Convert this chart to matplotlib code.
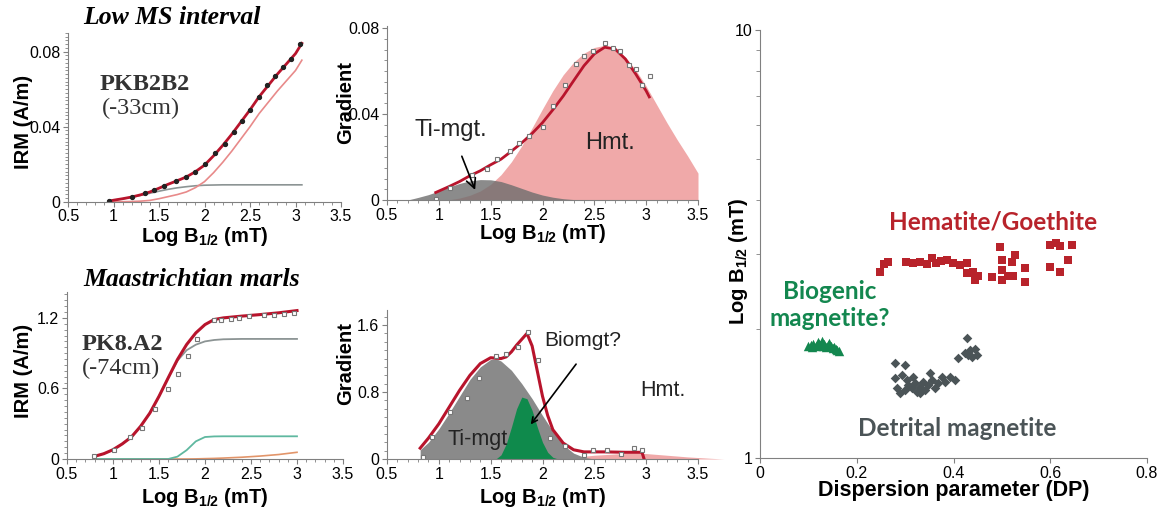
import numpy as np
import matplotlib
matplotlib.use("Agg")
import matplotlib.pyplot as plt
from matplotlib.ticker import MultipleLocator, FixedLocator, NullFormatter, FuncFormatter

plt.rcParams["font.family"] = ["Liberation Sans", "DejaVu Sans"]
plt.rcParams["mathtext.fontset"] = "custom"
plt.rcParams["mathtext.rm"] = "Liberation Sans"
plt.rcParams["mathtext.bf"] = "Liberation Sans:bold"

RED = "#b8142c"
PINK_LINE = "#e88a8a"
PINK_FILL = "#f0a9a9"
GRAY_LINE = "#8c9494"
GRAY_FILL = "#6e6e6e"
GREEN = "#0f8a4c"
TEAL = "#5fb8a0"
ORANGE = "#e2956a"

# --- PKB2B2 IRM acquisition (top left) ---
tl_x = [0.95, 1.0, 1.1, 1.2, 1.3, 1.4, 1.5, 1.6, 1.7, 1.8, 1.9, 2.0, 2.1, 2.2,
        2.3, 2.4, 2.5, 2.6, 2.7, 2.8, 2.9, 3.0, 3.07]
tl_total = [0.0003, 0.0008, 0.0016, 0.0025, 0.0037, 0.0052, 0.0072, 0.0093, 0.0112,
            0.0132, 0.016, 0.0195, 0.0245, 0.030, 0.036, 0.0425, 0.049, 0.056,
            0.062, 0.068, 0.0735, 0.079, 0.0845]
tl_gray = [0.0003, 0.0008, 0.0015, 0.0024, 0.0034, 0.0045, 0.0056, 0.0066, 0.0074,
           0.008, 0.0085, 0.0088, 0.0089, 0.009, 0.009, 0.009, 0.009, 0.009,
           0.009, 0.009, 0.009, 0.009, 0.009]
tl_pink = [0.0, 0.0, 0.0, 0.0001, 0.0003, 0.0007, 0.0016, 0.0027, 0.0038, 0.0052,
           0.0075, 0.0107, 0.0155, 0.021, 0.027, 0.0335, 0.040, 0.047, 0.053,
           0.059, 0.0645, 0.070, 0.0755]
tl_pts_x = [0.95, 1.2, 1.35, 1.45, 1.56, 1.69, 1.8, 1.9, 2.0, 2.11, 2.22, 2.32,
            2.41, 2.5, 2.6, 2.69, 2.78, 2.86, 2.95, 3.05]
tl_pts_y = [0.0003, 0.0023, 0.0045, 0.0063, 0.0085, 0.0108, 0.013, 0.016, 0.020,
            0.026, 0.031, 0.037, 0.043, 0.049, 0.056, 0.062, 0.067, 0.072, 0.076, 0.084]

# --- PKB2B2 gradient (top middle) ---
tm_fill_x = [0.7, 0.8, 0.9, 1.0, 1.1, 1.2, 1.3, 1.4, 1.5, 1.6, 1.7, 1.8, 1.9, 2.0,
             2.1, 2.2, 2.3, 2.4, 2.5, 2.6, 2.7, 2.8, 2.9, 3.0, 3.1, 3.2, 3.3, 3.4, 3.5]
tm_hmt = [0.0, 0.0, 0.0, 0.0, 0.0001, 0.0009, 0.0022, 0.0042, 0.0073, 0.0118,
          0.0178, 0.0252, 0.0336, 0.0424, 0.0509, 0.0583, 0.0641, 0.0683, 0.0710,
          0.072, 0.0705, 0.0665, 0.0605, 0.0530, 0.0445, 0.0360, 0.0280, 0.0205, 0.0125]
tm_timgt = [0.0, 0.0012, 0.0025, 0.0042, 0.0061, 0.0077, 0.0089, 0.0095, 0.0094,
            0.0086, 0.0071, 0.0054, 0.0037, 0.0023, 0.0013, 0.0006, 0.0002, 0.0,
            0.0, 0.0, 0.0, 0.0, 0.0, 0.0, 0.0, 0.0, 0.0, 0.0, 0.0]
tm_fit_x = [0.97, 1.1, 1.2, 1.3, 1.4, 1.5, 1.6, 1.7, 1.8, 1.9, 2.0, 2.1, 2.2, 2.3,
            2.4, 2.5, 2.6, 2.7, 2.8, 2.9, 3.0, 3.03]
tm_fit_y = [0.0035, 0.0063, 0.0086, 0.0113, 0.0136, 0.0164, 0.019, 0.0227, 0.0266,
            0.031, 0.036, 0.042, 0.0484, 0.0555, 0.0625, 0.068, 0.0711, 0.0703,
            0.0656, 0.0586, 0.0508, 0.048]
tm_pts_x = [0.97, 1.11, 1.32, 1.46, 1.56, 1.69, 1.77, 1.87, 2.0, 2.1, 2.22, 2.32,
            2.4, 2.49, 2.6, 2.68, 2.75, 2.83, 2.9, 2.96, 3.04]
tm_pts_y = [0.0003, 0.0055, 0.0117, 0.0144, 0.019, 0.0227, 0.0266, 0.0297, 0.034,
            0.0437, 0.0534, 0.0633, 0.0672, 0.0695, 0.0731, 0.0706, 0.0695, 0.0628,
            0.0609, 0.0534, 0.0575]

# --- PK8.A2 IRM acquisition (bottom left) ---
bl_x = [0.8, 0.9, 1.0, 1.1, 1.2, 1.3, 1.4, 1.5, 1.6, 1.7, 1.8, 1.9, 2.0, 2.1,
        2.2, 2.4, 2.6, 2.8, 3.0]
bl_total = [0.023, 0.045, 0.079, 0.128, 0.187, 0.278, 0.39, 0.533, 0.69, 0.845,
            0.973, 1.072, 1.143, 1.186, 1.2, 1.215, 1.228, 1.243, 1.262]
bl_gray = [0.023, 0.045, 0.079, 0.128, 0.187, 0.278, 0.39, 0.533, 0.69, 0.835,
           0.925, 0.972, 1.0, 1.012, 1.018, 1.021, 1.021, 1.021, 1.021]
bl_teal = [0.0, 0.0, 0.0, 0.0, 0.0, 0.0, 0.0, 0.0, 0.0, 0.02, 0.075, 0.15, 0.187,
           0.192, 0.193, 0.193, 0.193, 0.193, 0.193]
bl_orange = [0.0, 0.0, 0.0, 0.0, 0.0, 0.0, 0.0, 0.0, 0.0, 0.0, 0.0, 0.001, 0.003,
             0.005, 0.008, 0.015, 0.025, 0.038, 0.057]
bl_pts_x = [0.79, 1.01, 1.19, 1.31, 1.46, 1.6, 1.71, 1.81, 1.91, 2.1, 2.17, 2.28,
            2.37, 2.48, 2.64, 2.75, 2.86, 2.97]
bl_pts_y = [0.023, 0.074, 0.184, 0.264, 0.426, 0.596, 0.726, 0.874, 1.021, 1.186,
            1.186, 1.19, 1.2, 1.214, 1.226, 1.226, 1.234, 1.243]

# --- PK8.A2 gradient (bottom middle) ---
bm_gray_x = [0.82, 0.9, 1.0, 1.1, 1.2, 1.3, 1.4, 1.5, 1.55, 1.6, 1.7, 1.8, 1.9,
             2.0, 2.1, 2.2, 2.3, 2.4, 2.5]
bm_gray_y = [0.11, 0.2, 0.36, 0.55, 0.75, 0.95, 1.1, 1.19, 1.2, 1.17, 1.06, 0.9,
             0.72, 0.52, 0.33, 0.17, 0.07, 0.02, 0.0]
bm_green_x = [1.55, 1.6, 1.65, 1.7, 1.75, 1.8, 1.85, 1.9, 1.95, 2.0, 2.05, 2.1, 2.15]
bm_green_y = [0.0, 0.05, 0.18, 0.38, 0.6, 0.74, 0.72, 0.58, 0.38, 0.2, 0.08, 0.02, 0.0]
bm_hmt_x = [2.3, 2.5, 2.7, 2.9, 3.0, 3.2, 3.4, 3.6, 3.75]
bm_hmt_y = [0.02, 0.045, 0.06, 0.07, 0.065, 0.045, 0.025, 0.01, 0.0]
bm_fit_x = [0.82, 0.9, 1.0, 1.1, 1.2, 1.3, 1.4, 1.5, 1.6, 1.65, 1.7, 1.75, 1.8,
            1.85, 1.9, 1.95, 2.0, 2.05, 2.1, 2.2, 2.3, 2.4, 2.6, 2.8, 2.96, 2.98]
bm_fit_y = [0.13, 0.25, 0.42, 0.62, 0.82, 1.0, 1.14, 1.21, 1.2, 1.22, 1.28, 1.36,
            1.43, 1.5, 1.35, 1.05, 0.75, 0.52, 0.35, 0.19, 0.11, 0.085, 0.085,
            0.08, 0.08, 0.0]
bm_pts_x = [0.85, 0.93, 1.11, 1.27, 1.39, 1.55, 1.65, 1.76, 1.86, 1.96, 2.07, 2.22,
            2.4, 2.49, 2.62, 2.76, 2.88, 2.96]
bm_pts_y = [0.028, 0.267, 0.565, 0.724, 0.963, 1.23, 1.26, 1.333, 1.512, 1.18,
            0.255, 0.155, 0.048, 0.107, 0.107, 0.06, 0.127, 0.107]

# --- DP vs Log B1/2 scatter (right) ---
hem_dp = [0.248, 0.256, 0.265, 0.302, 0.316, 0.331, 0.345, 0.356, 0.364, 0.374,
          0.387, 0.399, 0.413, 0.428, 0.428, 0.440, 0.451, 0.444, 0.480, 0.496,
          0.500, 0.500, 0.500, 0.513, 0.521, 0.527, 0.523, 0.548, 0.548, 0.599,
          0.612, 0.620, 0.645, 0.599, 0.620, 0.637]
hem_b = [2.72, 2.84, 2.87, 2.87, 2.855, 2.87, 2.84, 2.93, 2.855, 2.885, 2.90, 2.855,
         2.825, 2.855, 2.705, 2.72, 2.66, 2.605, 2.65, 3.11, 2.90, 2.75, 2.605,
         2.66, 2.87, 2.98, 2.66, 2.78, 2.58, 3.15, 3.18, 3.13, 3.15, 2.79, 2.72, 2.90]
bio_dp = [0.10, 0.105, 0.108, 0.11, 0.115, 0.12, 0.122, 0.125, 0.128, 0.13, 0.133,
          0.137, 0.14, 0.143, 0.147, 0.15, 0.153, 0.157, 0.16, 0.163]
bio_b = [1.83, 1.84, 1.82, 1.85, 1.83, 1.87, 1.85, 1.84, 1.88, 1.83, 1.85, 1.82,
         1.84, 1.86, 1.83, 1.81, 1.82, 1.80, 1.79, 1.78]
det_dp = [0.279, 0.300, 0.279, 0.294, 0.304, 0.283, 0.289, 0.300, 0.314, 0.320,
          0.325, 0.331, 0.337, 0.341, 0.347, 0.351, 0.356, 0.362, 0.368, 0.376,
          0.382, 0.393, 0.403, 0.316, 0.306, 0.331, 0.409, 0.428, 0.424, 0.434,
          0.444, 0.449, 0.438, 0.430]
det_b = [1.667, 1.65, 1.54, 1.56, 1.52, 1.458, 1.419, 1.44, 1.458, 1.497, 1.426,
         1.466, 1.505, 1.44, 1.48, 1.58, 1.52, 1.458, 1.497, 1.546, 1.505, 1.546,
         1.52, 1.546, 1.48, 1.419, 1.713, 1.907, 1.759, 1.788, 1.80, 1.741, 1.72, 1.741]

W, H = 1161, 508


def box(x0, x1, ytop, ybot):
    return [x0 / W, 1 - ybot / H, (x1 - x0) / W, (ybot - ytop) / H]


def style(ax, yticks, ylabels, yminor, ylim):
    for s in ["top", "right"]:
        ax.spines[s].set_visible(False)
    for s in ["left", "bottom"]:
        ax.spines[s].set_color("#808080")
    ax.set_xlim(0.5, 3.5)
    ax.set_ylim(*ylim)
    ax.set_xticks([0.5, 1, 1.5, 2, 2.5, 3, 3.5])
    ax.set_xticklabels(["0.5", "1", "1.5", "2", "2.5", "3", "3.5"])
    ax.xaxis.set_minor_locator(MultipleLocator(0.1))
    ax.set_yticks(yticks)
    ax.set_yticklabels(ylabels)
    ax.yaxis.set_minor_locator(MultipleLocator(yminor))
    ax.tick_params(which="both", direction="out", color="#808080", labelsize=11.5, pad=2)
    ax.tick_params(which="major", length=3.5)
    ax.tick_params(which="minor", length=2)


XLAB = r"Log B$_{\mathbf{1/2}}$ (mT)"
LAB = dict(fontsize=14.5, fontweight="bold")

fig = plt.figure(figsize=(W / 100, H / 100), dpi=100)

# top left
ax1 = fig.add_axes(box(68, 341, 33, 201.7))
style(ax1, [0, 0.04, 0.08], ["0", "0.04", "0.08"], 0.002, (0, 0.09))
ax1.plot(tl_x, tl_gray, color=GRAY_LINE, lw=1.2)
ax1.plot(tl_x, tl_pink, color=PINK_LINE, lw=1.2)
ax1.plot(tl_x, tl_total, color=RED, lw=2)
ax1.plot(tl_pts_x, tl_pts_y, "o", color="#222222", ms=2.8)
ax1.set_xlabel(XLAB, **LAB)
ax1.set_ylabel("IRM (A/m)", **LAB)
ax1.xaxis.set_label_coords(0.5, -0.14)
ax1.yaxis.set_label_coords(-0.128, 0.47)

# top middle
ax2 = fig.add_axes(box(387, 698, 26, 200))
style(ax2, [0, 0.04, 0.08], ["0", "0.04", "0.08"], 0.005, (0, 0.081))
ax2.fill_between(tm_fill_x, tm_hmt, color=PINK_FILL, lw=0)
ax2.fill_between(tm_fill_x, tm_timgt, color=GRAY_FILL, alpha=0.8, lw=0)
ax2.plot(tm_fit_x, tm_fit_y, color=RED, lw=2)
ax2.plot(tm_pts_x, tm_pts_y, "s", mfc="white", mec="#777777", ms=3.5, mew=0.8)
ax2.text(2.65, 0.0266, "Hmt.", fontsize=17, ha="center", va="center", color="#222222")
ax2.annotate("Ti-mgt.", xy=(1.35, 0.0047), xytext=(1.12, 0.0328), fontsize=17,
             ha="center", va="center", color="#222222",
             arrowprops=dict(arrowstyle="->", color="black", lw=1.2, shrinkA=10, shrinkB=0))
ax2.set_xlabel(XLAB, **LAB)
ax2.set_ylabel("Gradient", **LAB)
ax2.xaxis.set_label_coords(0.5, -0.125)
ax2.yaxis.set_label_coords(-0.103, 0.56)

# bottom left
ax3 = fig.add_axes(box(67, 343, 292, 459))
style(ax3, [0, 0.6, 1.2], ["0", "0.6", "1.2"], 0.05, (0, 1.42))
ax3.plot(bl_x, bl_orange, color=ORANGE, lw=1.2)
ax3.plot(bl_x, bl_teal, color=TEAL, lw=1.3)
ax3.plot(bl_x, bl_gray, color=GRAY_LINE, lw=1.3)
ax3.plot(bl_x, bl_total, color=RED, lw=2.2)
ax3.plot(bl_pts_x, bl_pts_y, "s", mfc="white", mec="#777777", ms=3.5, mew=0.8)
ax3.set_xlabel(XLAB, **LAB)
ax3.set_ylabel("IRM (A/m)", **LAB)
ax3.xaxis.set_label_coords(0.5, -0.16)
ax3.yaxis.set_label_coords(-0.123, 0.53)

# bottom middle
ax4 = fig.add_axes(box(387, 698, 310, 459))
style(ax4, [0, 0.8, 1.6], ["0", "0.8", "1.6"], 0.1, (0, 1.78))
ax4.fill_between(bm_hmt_x, bm_hmt_y, color=PINK_FILL, lw=0, clip_on=False)
ax4.fill_between(bm_gray_x, bm_gray_y, color="#8a8a8a", lw=0)
ax4.fill_between(bm_green_x, bm_green_y, color=GREEN, lw=0)
ax4.plot(bm_fit_x, bm_fit_y, color=RED, lw=2.2)
ax4.plot(bm_pts_x, bm_pts_y, "s", mfc="white", mec="#777777", ms=3.5, mew=0.8)
ax4.text(3.16, 0.82, "Hmt.", fontsize=15.5, ha="center", va="center", color="#222222")
ax4.text(1.37, 0.227, "Ti-mgt", fontsize=15.5, ha="center", va="center", color="#222222")
ax4.text(2.39, 1.42, "Biomgt?", fontsize=15, ha="center", va="center", color="#222222")
ax4.annotate("", xy=(1.87, 0.386), xytext=(2.34, 1.16),
             arrowprops=dict(arrowstyle="->", color="black", lw=1.2))
ax4.set_xlabel(XLAB, **LAB)
ax4.set_ylabel("Gradient", **LAB)
ax4.xaxis.set_label_coords(0.5, -0.18)
ax4.yaxis.set_label_coords(-0.103, 0.64)

# section titles and sample names
serif = ["Liberation Serif", "DejaVu Serif"]
fig.text(172 / W, 1 - 18 / H, "Low MS interval", family=serif, style="italic",
         fontweight="bold", fontsize=18.5, ha="center", va="center")
fig.text(192 / W, 1 - 280 / H, "Maastrichtian marls", family=serif, style="italic",
         fontweight="bold", fontsize=18.5, ha="center", va="center")
fig.text(100 / W, 1 - 85 / H, "PKB2B2", family=serif, fontweight="bold",
         fontsize=17.5, ha="left", va="center", color="#333333")
fig.text(102 / W, 1 - 108 / H, "(-33cm)", family=serif, fontsize=17.5,
         ha="left", va="center", color="#333333")
fig.text(82 / W, 1 - 344 / H, "PK8.A2", family=serif, fontweight="bold",
         fontsize=17.5, ha="left", va="center", color="#333333")
fig.text(82 / W, 1 - 368 / H, "(-74cm)", family=serif, fontsize=17.5,
         ha="left", va="center", color="#333333")

# right scatter
ax5 = fig.add_axes(box(760, 1147, 30, 458))
for s in ["top", "right"]:
    ax5.spines[s].set_visible(False)
for s in ["left", "bottom"]:
    ax5.spines[s].set_color("#808080")
ax5.set_yscale("log")
ax5.set_xlim(0, 0.8)
ax5.set_ylim(1, 10)
ax5.set_xticks([0, 0.2, 0.4, 0.6, 0.8])
ax5.set_xticklabels(["0", "0.2", "0.4", "0.6", "0.8"])
ax5.yaxis.set_major_locator(FixedLocator([1, 10]))
ax5.yaxis.set_major_formatter(FuncFormatter(lambda v, p: "%g" % v))
ax5.yaxis.set_minor_locator(FixedLocator([2, 3, 4, 5, 6, 7, 8, 9]))
ax5.yaxis.set_minor_formatter(NullFormatter())
ax5.tick_params(which="both", direction="out", color="#808080", labelsize=11.5, pad=2)
ax5.tick_params(which="major", length=3.5)
ax5.tick_params(which="minor", length=3)
ax5.scatter(hem_dp, hem_b, marker="s", s=40, color="#b8232b", lw=0)
ax5.scatter(bio_dp, bio_b, marker="^", s=46, color="#13874f", lw=0)
ax5.scatter(det_dp, det_b, marker="D", s=24, color="#4b5457", lw=0)
lato = ["Lato", "DejaVu Sans"]
ax5.text(0.482, 3.56, "Hematite/Goethite", family=lato, fontweight="bold",
         fontsize=17.5, color="#b8232b", ha="center", va="center")
ax5.text(0.144, 2.28, "Biogenic\nmagnetite?", family=lato, fontweight="bold",
         fontsize=17.5, color="#13874f", ha="center", va="center", linespacing=1.2)
ax5.text(0.407, 1.175, "Detrital magnetite", family=lato, fontweight="bold",
         fontsize=17.5, color="#4b5457", ha="center", va="center")
ax5.set_xlabel("Dispersion parameter (DP)", fontsize=15.5, fontweight="bold")
ax5.set_ylabel(XLAB, **LAB)
ax5.xaxis.set_label_coords(0.5, -0.052)
ax5.yaxis.set_label_coords(-0.026, 0.46)

fig.savefig("out.png", dpi=100)
